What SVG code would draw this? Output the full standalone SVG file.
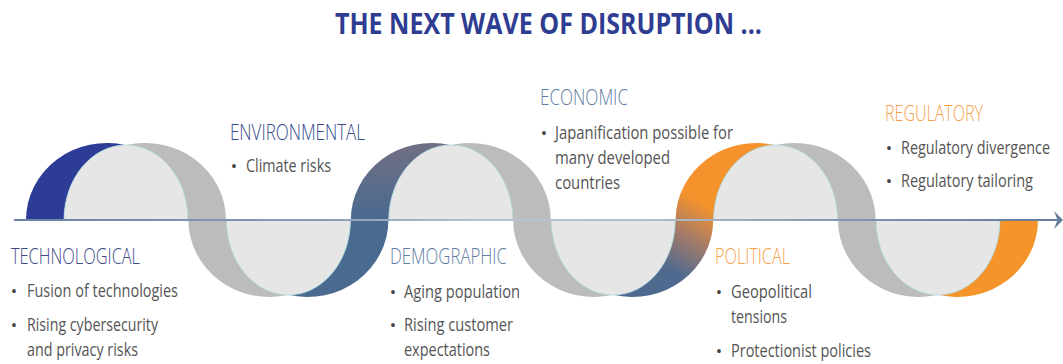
<svg xmlns="http://www.w3.org/2000/svg" width="1063" height="364" viewBox="0 0 1063 364">
<defs>
<style>
.title{font-family:"Open Sans","Liberation Sans",sans-serif;font-weight:700;font-size:29px;fill:#2e3d92}
.hd{font-family:"Open Sans","Liberation Sans",sans-serif;font-weight:300;font-size:22px}
.bd{font-family:"Open Sans","Liberation Sans",sans-serif;font-weight:400;font-size:19px;fill:#555555}
.bl{font-family:"Open Sans","Liberation Sans",sans-serif;font-size:17px;fill:#444444;text-anchor:middle}
.gray{fill:#bcbcbc}
.disk{fill:#e6e6e6;stroke:#a6d6da;stroke-width:0.8}
.blue{fill:#3c4a86}
.env{fill:#34478a}
.slate{fill:#5f7ca3}
.orange{fill:#f6a04a}
</style>
<linearGradient id="gSlate" gradientUnits="userSpaceOnUse" x1="0" y1="148" x2="0" y2="218">
<stop offset="0" stop-color="#6f6f84"/>
<stop offset="1" stop-color="#4b6a8f"/>
</linearGradient>
<linearGradient id="gOrange" gradientUnits="userSpaceOnUse" x1="705" y1="205" x2="668" y2="268">
<stop offset="0" stop-color="#f4922c"/>
<stop offset="0.5" stop-color="#a37b6a"/>
<stop offset="1" stop-color="#506a8f"/>
</linearGradient>
<linearGradient id="gAxis" gradientUnits="userSpaceOnUse" x1="14" y1="0" x2="1062" y2="0">
<stop offset="0" stop-color="#6b84a4"/>
<stop offset="0.3" stop-color="#8a9cb4"/>
<stop offset="0.45" stop-color="#b9c3cf"/>
<stop offset="0.6" stop-color="#b4bfcc"/>
<stop offset="0.8" stop-color="#8093ad"/>
<stop offset="1" stop-color="#667b99"/>
</linearGradient>
</defs>

<text class="title" x="335" y="34" textLength="427" lengthAdjust="spacingAndGlyphs">THE NEXT WAVE OF DISRUPTION ...</text>

<g id="wave">
<path d="M26,220 A81,77 0 0 1 126,145.15 A62,75 0 0 0 64,220 Z" fill="#2c3c97"/>
<path class="gray" d="M126,145.15 A81,77 0 0 1 226,220 L188,220 A62,75 0 0 0 126,145 Z"/>
<path class="disk" d="M64,220 A62,75 0 0 1 188,220"/>
<path class="gray" d="M188.4,220 A81,77 0 0 0 288.4,294.85 A62,75 0 0 1 226.4,220 Z"/>
<path fill="url(#gSlate)" d="M288.4,294.85 A81,77 0 0 0 388.4,220 L350.4,220 A62,75 0 0 1 288.4,295 Z"/>
<path class="disk" d="M226.4,220 A62,75 0 0 0 350.4,220"/>
<path fill="url(#gSlate)" d="M350.8,220 A81,77 0 0 1 450.8,145.15 A62,75 0 0 0 388.8,220 Z"/>
<path class="gray" d="M450.8,145.15 A81,77 0 0 1 550.8,220 L512.8,220 A62,75 0 0 0 450.8,145 Z"/>
<path class="disk" d="M388.8,220 A62,75 0 0 1 512.8,220"/>
<path class="gray" d="M513.2,220 A81,77 0 0 0 613.2,294.85 A62,75 0 0 1 551.2,220 Z"/>
<path fill="url(#gOrange)" d="M613.2,294.85 A81,77 0 0 0 713.2,220 L675.2,220 A62,75 0 0 1 613.2,295 Z"/>
<path class="disk" d="M551.2,220 A62,75 0 0 0 675.2,220"/>
<path fill="url(#gOrange)" d="M675.6,220 A81,77 0 0 1 775.6,145.15 A62,75 0 0 0 713.6,220 Z"/>
<path class="gray" d="M775.6,145.15 A81,77 0 0 1 875.6,220 L837.6,220 A62,75 0 0 0 775.6,145 Z"/>
<path class="disk" d="M713.6,220 A62,75 0 0 1 837.6,220"/>
<path class="gray" d="M838,220 A81,77 0 0 0 938,294.85 A62,75 0 0 1 876,220 Z"/>
<path fill="#f5942a" d="M938,294.85 A81,77 0 0 0 1038,220 L1000,220 A62,75 0 0 1 938,295 Z"/>
<path class="disk" d="M876,220 A62,75 0 0 0 1000,220"/>
</g>

<g id="connectors">
<line x1="14" y1="220" x2="1058" y2="220" stroke="url(#gAxis)" stroke-width="2.2"/>
<path d="M1054,211 L1063,220 L1054,229 L1057.5,220 Z" fill="#667b99"/>
</g>

<g id="technological">
<text class="hd blue" x="11" y="264" textLength="129" lengthAdjust="spacingAndGlyphs">TECHNOLOGICAL</text>
<text class="bl" x="14" y="297">•</text>
<text class="bd" x="27" y="297" textLength="151" lengthAdjust="spacingAndGlyphs">Fusion of technologies</text>
<text class="bl" x="14" y="331">•</text>
<text class="bd" x="27" y="331" textLength="131" lengthAdjust="spacingAndGlyphs">Rising cybersecurity</text>
<text class="bd" x="27" y="356" textLength="111" lengthAdjust="spacingAndGlyphs">and privacy risks</text>
</g>

<g id="environmental">
<text class="hd env" x="230" y="140" textLength="135" lengthAdjust="spacingAndGlyphs">ENVIRONMENTAL</text>
<text class="bl" x="234" y="172">•</text>
<text class="bd" x="246" y="172" textLength="85" lengthAdjust="spacingAndGlyphs">Climate risks</text>
</g>

<g id="economic">
<text class="hd slate" x="540" y="105" textLength="88" lengthAdjust="spacingAndGlyphs">ECONOMIC</text>
<text class="bl" x="544" y="139">•</text>
<text class="bd" x="555" y="139" textLength="178" lengthAdjust="spacingAndGlyphs">Japanification possible for</text>
<text class="bd" x="555" y="164" textLength="115" lengthAdjust="spacingAndGlyphs">many developed</text>
<text class="bd" x="555" y="189" textLength="65" lengthAdjust="spacingAndGlyphs">countries</text>
</g>

<g id="demographic">
<text class="hd slate" x="390" y="264" textLength="117" lengthAdjust="spacingAndGlyphs">DEMOGRAPHIC</text>
<text class="bl" x="393" y="298">•</text>
<text class="bd" x="404" y="298" textLength="116" lengthAdjust="spacingAndGlyphs">Aging population</text>
<text class="bl" x="393" y="331">•</text>
<text class="bd" x="404" y="331" textLength="109" lengthAdjust="spacingAndGlyphs">Rising customer</text>
<text class="bd" x="404" y="356" textLength="86" lengthAdjust="spacingAndGlyphs">expectations</text>
</g>

<g id="political">
<text class="hd orange" x="715" y="264" textLength="75" lengthAdjust="spacingAndGlyphs">POLITICAL</text>
<text class="bl" x="719" y="298">•</text>
<text class="bd" x="731" y="298" textLength="81" lengthAdjust="spacingAndGlyphs">Geopolitical</text>
<text class="bd" x="731" y="323" textLength="56" lengthAdjust="spacingAndGlyphs">tensions</text>
<text class="bl" x="719" y="357">•</text>
<text class="bd" x="731" y="357" textLength="140" lengthAdjust="spacingAndGlyphs">Protectionist policies</text>
</g>

<g id="regulatory">
<text class="hd orange" x="885" y="121" textLength="98" lengthAdjust="spacingAndGlyphs">REGULATORY</text>
<text class="bl" x="889" y="154">•</text>
<text class="bd" transform="translate(901,154) scale(0.75,1)" x="0" y="0" textLength="198.7" lengthAdjust="spacingAndGlyphs">Regulatory divergence</text>
<text class="bl" x="889" y="187">•</text>
<text class="bd" transform="translate(901,187) scale(0.75,1)" x="0" y="0" textLength="176" lengthAdjust="spacingAndGlyphs">Regulatory tailoring</text>
</g>
</svg>
